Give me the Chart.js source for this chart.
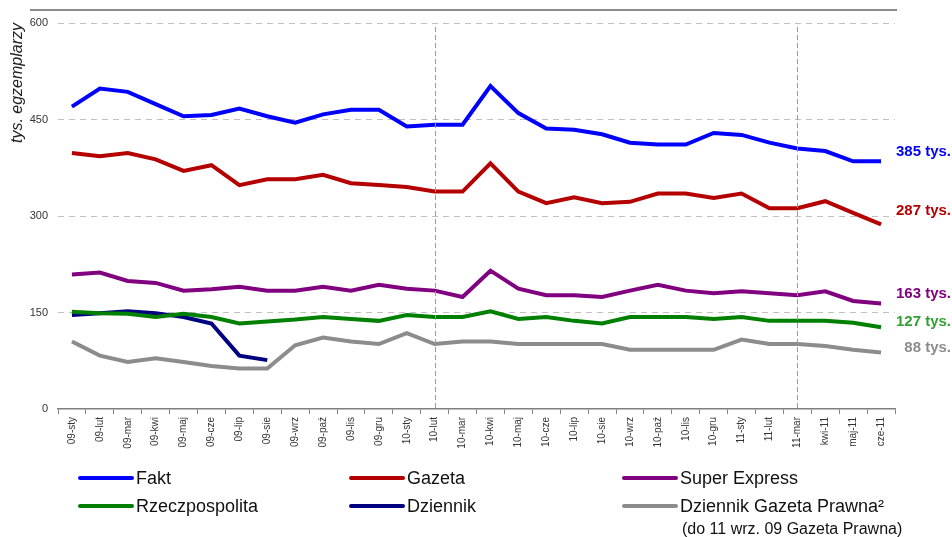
<!DOCTYPE html>
<html>
<head>
<meta charset="utf-8">
<script src="https://cdn.jsdelivr.net/npm/chart.js@4/dist/chart.umd.min.js"></script>
<style>
  html, body { margin: 0; padding: 0; background: #fff; }
  #chart { display: block; }
</style>
</head>
<body>
<canvas id="chart" width="952" height="537"></canvas>
<script>
const months = [
  "09-sty", "09-lut", "09-mar", "09-kwi", "09-maj", "09-cze", "09-lip", "09-sie",
  "09-wrz", "09-paź", "09-lis", "09-gru", "10-sty", "10-lut", "10-mar", "10-kwi",
  "10-maj", "10-cze", "10-lip", "10-sie", "10-wrz", "10-paź", "10-lis", "10-gru",
  "11-sty", "11-lut", "11-mar", "kwi-11", "maj-11", "cze-11"
];

const fakt = [470, 498, 493, 474, 455, 457, 467, 455, 445, 458, 465, 465, 439, 442, 442,
  502, 460, 436, 434, 427, 414, 411, 411, 429, 426, 414, 405, 401, 385, 385];
const gazeta = [398, 393, 398, 388, 370, 379, 348, 357, 357, 364, 351, 348, 345, 338, 338,
  382, 338, 320, 329, 320, 322, 335, 335, 328, 335, 312, 312, 323, 305, 287];
const superExpress = [209, 212, 199, 196, 184, 186, 190, 184, 184, 190, 184, 193, 187, 184, 174,
  215, 187, 177, 177, 174, 184, 193, 184, 180, 183, 180, 177, 183, 168, 164];
const rzeczpospolita = [151, 149, 148, 143, 148, 143, 133, 136, 139, 143, 140, 137, 146, 143, 143,
  152, 140, 143, 137, 133, 143, 143, 143, 140, 143, 137, 137, 137, 134, 127];
const dziennik = [146, 149, 152, 149, 143, 133, 83, 76];
const dgp = [105, 83, 73, 79, 73, 67, 63, 63, 99, 111, 105, 101, 118, 101, 105,
  105, 101, 101, 101, 101, 92, 92, 92, 92, 108, 101, 101, 98, 92, 88];

const yTicks = [0, 150, 300, 450, 600];
const markedMonths = ["10-lut", "11-mar"];
const endLabels = ["385 tys.", "287 tys.", "163 tys.", "127 tys.", null, "88 tys."];

const legendNames = ["Fakt", "Gazeta", "Super Express", "Rzeczpospolita", "Dziennik", "Dziennik Gazeta Prawna²"];
const legendNote = "(do 11 wrz. 09 Gazeta Prawna)";

const colors = ["#0000ff", "#b40000", "#800080", "#008000", "#000080", "#8c8c8c"];
const labelColors = ["#0000ff", "#b40000", "#800080", "#33a033", null, "#8c8c8c"];
const seriesList = [fakt, gazeta, superExpress, rzeczpospolita, dziennik, dgp];

const datasets = seriesList.map((data, i) => ({
  label: legendNames[i],
  data,
  borderColor: colors[i],
  backgroundColor: colors[i],
  borderWidth: 4,
  pointRadius: 0,
  tension: 0,
  fill: false
}));

const extras = {
  id: "extras",
  afterDraw(chart) {
    const ctx = chart.ctx;
    const x = chart.scales.x;
    const y = chart.scales.y;
    const area = chart.chartArea;
    ctx.save();

    // top rule
    ctx.strokeStyle = "#666";
    ctx.lineWidth = 1.5;
    ctx.beginPath();
    ctx.moveTo(30, 10);
    ctx.lineTo(897, 10);
    ctx.stroke();

    // dashed year markers
    ctx.strokeStyle = "#999";
    ctx.lineWidth = 1;
    ctx.setLineDash([5, 3]);
    markedMonths.forEach((m) => {
      const px = Math.round(x.getPixelForValue(months.indexOf(m))) + 0.5;
      ctx.beginPath();
      ctx.moveTo(px, area.top + 4);
      ctx.lineTo(px, area.bottom);
      ctx.stroke();
    });
    ctx.setLineDash([]);

    // axis title
    ctx.fillStyle = "#222";
    ctx.font = "italic 16px 'Liberation Sans', Arial, sans-serif";
    ctx.textAlign = "center";
    ctx.textBaseline = "middle";
    ctx.translate(18, 83);
    ctx.rotate(-Math.PI / 2);
    ctx.fillText("tys. egzemplarzy", 0, 0);
    ctx.setTransform(1, 0, 0, 1, 0, 0);

    // end labels
    const dy = [-9, -14, -10, -5, 0, -5];
    ctx.font = "bold 15px 'Liberation Sans', Arial, sans-serif";
    ctx.textAlign = "right";
    seriesList.forEach((data, i) => {
      if (!endLabels[i]) return;
      const py = y.getPixelForValue(data[data.length - 1]) + dy[i];
      ctx.fillStyle = labelColors[i];
      ctx.fillText(endLabels[i], 951, py);
    });

    // legend
    const colX = [78, 349, 622];
    const rowY = [478, 506];
    ctx.font = "18px 'Liberation Sans', Arial, sans-serif";
    ctx.textAlign = "left";
    ctx.lineCap = "round";
    legendNames.forEach((name, i) => {
      const cx = colX[i % 3];
      const cy = rowY[Math.floor(i / 3)];
      ctx.strokeStyle = colors[i];
      ctx.lineWidth = 4;
      ctx.beginPath();
      ctx.moveTo(cx + 2, cy);
      ctx.lineTo(cx + 54, cy);
      ctx.stroke();
      ctx.fillStyle = "#111";
      ctx.fillText(name, cx + 58, cy + 1);
    });
    ctx.font = "16px 'Liberation Sans', Arial, sans-serif";
    ctx.fillText(legendNote, colX[2] + 60, 530);

    ctx.restore();
  }
};

new Chart(document.getElementById("chart"), {
  type: "line",
  data: { labels: months, datasets },
  options: {
    responsive: false,
    animation: false,
    devicePixelRatio: 1,
    layout: { padding: { top: 23, right: 57, left: 0, bottom: 78 } },
    plugins: { legend: { display: false }, tooltip: { enabled: false } },
    scales: {
      x: {
        offset: true,
        afterFit: (s) => { s.height = 50; },
        grid: {
          offset: true,
          drawOnChartArea: false,
          drawTicks: true,
          tickLength: 5,
          color: "#808080"
        },
        border: { display: true, color: "#808080", width: 1.5 },
        ticks: {
          autoSkip: false,
          maxRotation: 90,
          minRotation: 90,
          padding: 3,
          color: "#333",
          font: { size: 10, family: "'Liberation Sans', Arial, sans-serif" }
        }
      },
      y: {
        min: 0,
        max: 600,
        afterFit: (s) => { s.width = 58; },
        afterBuildTicks: (s) => { s.ticks = yTicks.map((v) => ({ value: v })); },
        grid: {
          drawTicks: false,
          color: (c) => (c.tick && c.tick.value === 0 ? "rgba(0,0,0,0)" : "#c0c0c0"),
          lineWidth: 1
        },
        border: { display: false, dash: [6, 5] },
        ticks: {
          padding: 10,
          color: "#333",
          font: { size: 11, family: "'Liberation Sans', Arial, sans-serif" }
        }
      }
    }
  },
  plugins: [extras]
});
</script>
</body>
</html>
